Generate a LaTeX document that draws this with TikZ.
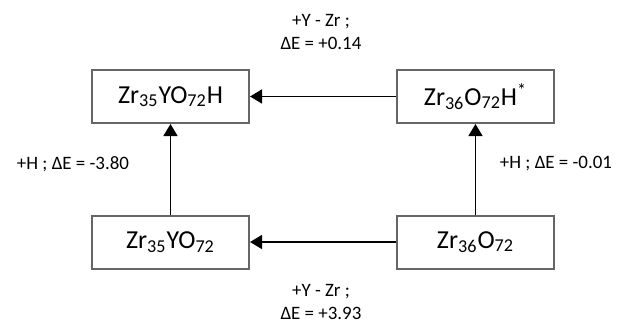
\documentclass[tikz,border=0pt]{standalone}
\usepackage{fontspec}
\setmainfont{Carlito}
\usetikzlibrary{arrows.meta,positioning}
\tikzset{
  >={Triangle[length=6bp,width=7bp]},
  cellbox/.style={draw=black!60,line width=1bp,minimum width=78.5bp,
    minimum height=26.5bp,inner sep=0pt,font=\fontsize{13}{15}\selectfont},
  rxn/.style={->,line width=0.7bp,black},
  rxnlbl/.style={font=\fontsize{9.5}{12}\selectfont,align=center,inner sep=0pt},
}
\begin{document}
\begin{tikzpicture}[x=0.5bp,y=-0.5bp]
  \useasboundingbox (0,0) rectangle (632,322);
  \node[cellbox] (zyoh) at (170.5,96.5) {Zr\textsubscript{35}YO\textsubscript{72}H};
  \node[cellbox] (zoh) at (475.5,96.5) {Zr\textsubscript{36}O\textsubscript{72}H\textsuperscript{*}};
  \node[cellbox] (zyo) at (170.5,242) {Zr\textsubscript{35}YO\textsubscript{72}};
  \node[cellbox] (zo) at (475.5,242) {Zr\textsubscript{36}O\textsubscript{72}};
  \draw[rxn] (zoh) -- (zyoh);
  \draw[rxn] (zo) -- (zyo);
  \draw[rxn] (zyo) -- (zyoh);
  \draw[rxn] (zo) -- (zoh);
  \node[rxnlbl] (ltop) at (321,32) {+Y - Zr ;\\ΔE = +0.14};
  \node[rxnlbl] (lbot) at (321,302) {+Y - Zr ;\\ΔE = +3.93};
  \node[rxnlbl] (lleft) at (73,164) {+H ; ΔE = -3.80};
  \node[rxnlbl] (lright) at (556,164) {+H ; ΔE = -0.01};
\end{tikzpicture}
\end{document}
